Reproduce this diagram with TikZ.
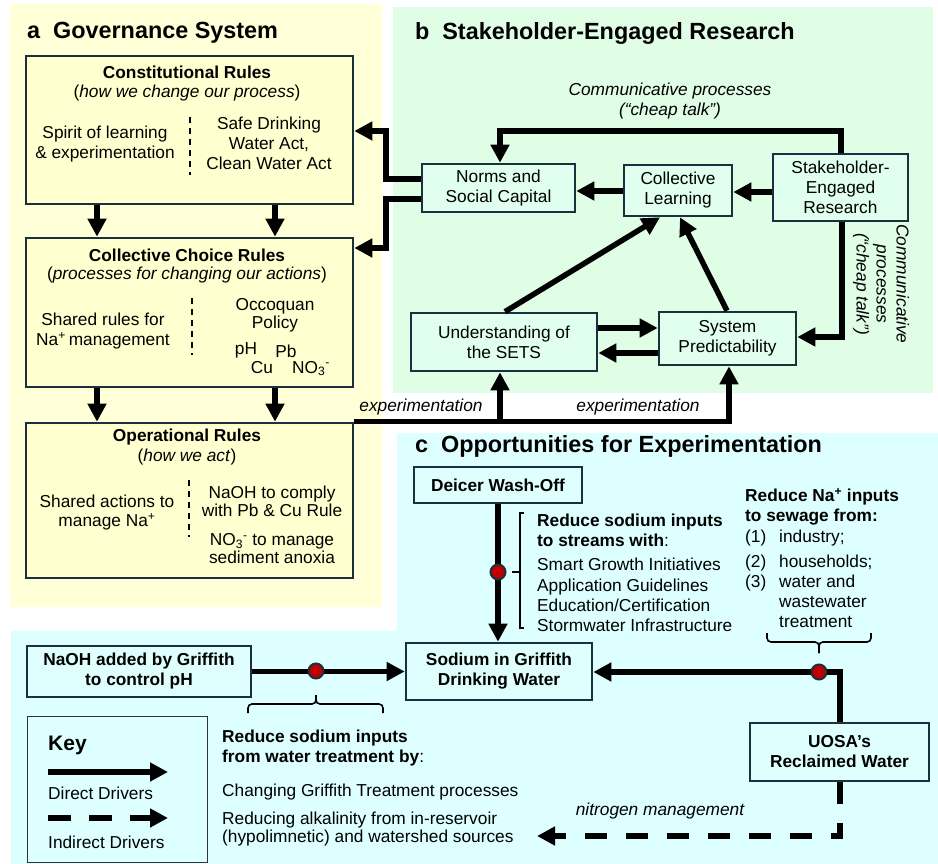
\documentclass[tikz,border=0pt]{standalone}
\usepackage{fontspec}
\setmainfont{Liberation Sans}
\usetikzlibrary{arrows.meta}
\definecolor{ybg}{HTML}{FFFFD8}
\definecolor{ybox}{HTML}{FFFFCF}
\definecolor{gbg}{HTML}{E0FDE5}
\definecolor{gbox}{HTML}{E0FFEF}
\definecolor{cbg}{HTML}{DDFFFF}
\definecolor{cbox}{HTML}{DFFFFF}
\definecolor{navy}{HTML}{19303F}
\definecolor{dotred}{HTML}{C00000}
\newcommand{\bodyfs}{\fontsize{17.3}{20}\selectfont}
\newcommand{\headfs}{\fontsize{23.4}{26}\selectfont\bfseries}
\begin{document}
\begin{tikzpicture}[x=1pt,y=-1pt,
  txt/.style={font=\bodyfs, align=center, inner sep=0pt},
  txtb/.style={font=\bodyfs, inner sep=0pt, anchor=base},
  txtl/.style={font=\bodyfs, align=left, inner sep=0pt, anchor=west},
  txtlb/.style={font=\bodyfs, inner sep=0pt, anchor=base west},
  head/.style={font=\headfs, inner sep=0pt, anchor=west},
  boxa/.style={draw=navy, line width=2.6pt, fill=ybox, inner sep=0pt},
  boxb/.style={draw=navy, line width=2.6pt, fill=gbox, inner sep=0pt, font=\bodyfs, align=center},
  boxc/.style={draw=navy, line width=2.6pt, fill=cbox, inner sep=0pt, font=\bodyfs\bfseries, align=center},
  arr/.style={line width=5.5pt, line join=miter, -{Triangle[length=18pt,width=18pt]}},
  sep/.style={line width=1.8pt, dash pattern=on 6pt off 5pt},
  brk/.style={line width=1.6pt},
  dot/.style={circle, fill=dotred, draw=navy, line width=2pt, minimum size=15pt, inner sep=0pt}]
\useasboundingbox (0,0) rectangle (938,864);
\fill[white] (0,0) rectangle (938,864);
% panels
\fill[ybg] (10,4) rectangle (382,607);
\fill[gbg] (393,7) rectangle (933,393);
\fill[cbg] (397,433) -- (938,433) -- (938,864) -- (11,864) -- (11,631) -- (397,631) -- cycle;
% headings
\node[head] (ha) at (27,33) {a\hspace{0.55em}Governance System};
\node[head] (hb) at (415,34) {b\hspace{0.55em}Stakeholder-Engaged Research};
\node[head] (hc) at (415,446) {c\hspace{0.55em}Opportunities for Experimentation};
% ---------- panel a ----------
\node[boxa, minimum width=327pt, minimum height=148pt] (const) at (189.5,130) {};
\node[boxa, minimum width=327pt, minimum height=149pt] (coll) at (189.5,312.5) {};
\node[boxa, minimum width=327pt, minimum height=155pt] (oper) at (189.5,500.5) {};
% constitutional
\node[txt, font=\bodyfs\bfseries] (t1) at (187,72) {Constitutional Rules};
\node[txt] (t1s) at (187,93) {(\textit{how we change our process})};
\node[txt] (t1l) at (105,144) {Spirit of learning\\\& experimentation};
\draw[sep] (190,117) -- (190,175);
\node[txt] (t1r) at (269,143) {Safe Drinking\\Water Act,\\Clean Water Act};
% collective choice
\node[txt, font=\bodyfs\bfseries] (t2) at (187,255) {Collective Choice Rules};
\node[txt] (t2s) at (187,275) {(\textit{processes for changing our actions})};
\node[txt] (t2l) at (103,331) {Shared rules for\\Na\textsuperscript{+}\,management};
\draw[sep] (192,298) -- (192,355);
\node[txt, font=\fontsize{17.3}{18}\selectfont] (t2r) at (275,315) {Occoquan\\Policy};
\node[txtb] (tph) at (246,354) {pH};
\node[txtb] (tpb) at (286,357) {Pb};
\node[txtb] (tcu) at (262,373) {Cu};
\node[txtb] (tno) at (311,373) {NO\textsubscript{3}\textsuperscript{-}};
% operational
\node[txt, font=\bodyfs\bfseries] (t3) at (187,437) {Operational Rules};
\node[txt] (t3s) at (187,457) {(\textit{how we act})};
\node[txt, font=\fontsize{17.3}{19}\selectfont] (t3l) at (107,513) {Shared actions to\\manage Na\textsuperscript{+}};
\draw[sep] (189,480) -- (189,537);
\node[txt, font=\fontsize{17.3}{18}\selectfont] (t3r1) at (272,501) {NaOH to comply\\with Pb \& Cu Rule};
\node[txt, font=\fontsize{17.3}{18}\selectfont] (t3r2) at (272,549) {NO\textsubscript{3}\textsuperscript{-} to manage\\sediment anoxia};
% arrows between rule levels
\draw[arr] (const.south -| 97,0) -- (coll.north -| 97,0);
\draw[arr] (const.south -| 275,0) -- (coll.north -| 275,0);
\draw[arr] (coll.south -| 97,0) -- (oper.north -| 97,0);
\draw[arr] (coll.south -| 275,0) -- (oper.north -| 275,0);
% ---------- panel b ----------
\node[boxb, minimum width=153pt, minimum height=48pt] (norms) at (498.5,188) {Norms and\\Social Capital};
\node[boxb, minimum width=108pt, minimum height=51pt] (cl) at (678,190.5) {Collective\\Learning};
\node[boxb, minimum width=135pt, minimum height=67pt] (ser) at (840.5,187.5) {Stakeholder-\\Engaged\\Research};
\node[boxb, minimum width=186pt, minimum height=58pt] (und) at (504,342) {Understanding of\\the SETS};
\node[boxb, minimum width=137pt, minimum height=53pt] (sysp) at (727.5,338.5) {System\\Predictability};
\node[txt, font=\bodyfs\itshape] (comm1) at (670,101) {Communicative processes\\(“cheap talk”)};
\node[txt, font=\bodyfs\itshape, rotate=-90] (comm2) at (881,284) {Communicative\\processes\\(“cheap talk”)};
\draw[arr] (ser.north -| 841,0) -- (841,131) -- (500,131) -- (norms.north -| 500,0);
\draw[arr] (ser.west |- 0,192) -- (cl.east |- 0,192);
\draw[arr] (cl.west |- 0,191) -- (norms.east |- 0,191);
\draw[arr] (norms.west |- 0,179) -- (386,179) -- (386,131) -- (const.east |- 0,131);
\draw[arr] (norms.west |- 0,199) -- (386,199) -- (386,248) -- (coll.east |- 0,248);
\draw[arr] (und.north -| 505,0) -- (cl.south -| 660,0);
\draw[arr] (sysp.north -| 727,0) -- (cl.south -| 680,0);
\draw[arr] (und.east |- 0,328) -- (sysp.west |- 0,328);
\draw[arr] (sysp.west |- 0,353) -- (und.east |- 0,353);
\draw[arr] (ser.south -| 842,0) -- (842,337) -- (sysp.east |- 0,337);
% experimentation
\draw[arr] (oper.north east) -| (sysp.south -| 729,0);
\draw[arr] (500,423) -- (und.south -| 500,0);
\node[txt, font=\bodyfs\itshape] (ex1) at (421,407) {experimentation};
\node[txt, font=\bodyfs\itshape] (ex2) at (638,407) {experimentation};
% ---------- panel c ----------
\node[boxc, minimum width=168pt, minimum height=36pt] (deicer) at (498,485) {Deicer Wash-Off};
\node[boxc, minimum width=186pt, minimum height=57pt] (sodium) at (499,671.5) {Sodium in Griffith\\Drinking Water};
\node[boxc, minimum width=224pt, minimum height=51pt] (naoh) at (139,671.5) {NaOH added by Griffith\\to control pH};
\node[boxc, minimum width=179pt, minimum height=58pt] (uosa) at (839.5,752) {UOSA’s\\Reclaimed Water};
\draw[arr] (deicer.south) -- (deicer.south |- sodium.north);
\draw[arr] (naoh.east) -- (sodium.west);
\draw[arr] (uosa.north -| 840,0) -- (840,672) -- (sodium.east |- 0,672);
\coordinate (nend) at (537,836);
\draw[arr, dash pattern=on 22pt off 19pt] (uosa.south -| 840,0) -- (840,836) -- (nend);
\node[txt, font=\bodyfs\itshape] (nitro) at (660,811) {nitrogen management};
\node[dot] (dot1) at (498,572) {};
\node[dot] (dot2) at (316,671) {};
\node[dot] (dot3) at (819,672) {};
% bracket for deicer
\draw[brk] (dot1.east -| 512,0) -- (519,572);
\draw[brk] (524,513) -- (520,513) -- (520,628) -- (524,628);
\node[txtl, font=\fontsize{17.3}{20}\selectfont] (rs1) at (537,530) {\textbf{Reduce sodium inputs}\\\textbf{to streams with}:};
\node[txtl, font=\fontsize{17.3}{20.3}\selectfont] (rs2) at (537,595) {Smart Growth Initiatives\\Application Guidelines\\Education/Certification\\Stormwater Infrastructure};
% sewage
\node[txtl, font=\bodyfs\bfseries] (sw1) at (745,507) {Reduce Na\textsuperscript{+} inputs\\to sewage from:};
\node[txtlb] (sw2) at (745,542) {(1)};
\node[txtlb] (sw3) at (745,567) {(2)};
\node[txtlb] (sw4) at (745,587) {(3)};
\node[txtlb] (sw5) at (779,542) {industry;};
\node[txtlb] (sw6) at (779,567) {households;};
\node[txtlb] (sw7) at (779,587) {water and};
\node[txtlb] (sw8) at (779,607) {wastewater};
\node[txtlb] (sw9) at (779,627) {treatment};
\draw[brk, rounded corners=4pt] (767,633) -- (767,642) -- (819,642) -- (819,653);
\draw[brk, rounded corners=4pt] (871,633) -- (871,642) -- (819,642) -- (819,653);
% water treatment
\draw[brk, rounded corners=4pt] (248,713) -- (248,704) -- (316,704) -- (316,695);
\draw[brk, rounded corners=4pt] (383,713) -- (383,704) -- (316,704) -- (316,695);
\node[txtl] (wt1) at (222,748) {\textbf{Reduce sodium inputs}\\\textbf{from water treatment by}:};
\node[txtlb] (wt2) at (222,796) {Changing Griffith Treatment processes};
\node[txtl, font=\fontsize{17.3}{18}\selectfont] (wt3) at (222,829) {Reducing alkalinity from in-reservoir\\(hypolimnetic) and watershed sources};
% key
\node[draw=black!80, line width=1pt, minimum width=180pt, minimum height=146pt, inner sep=0pt] (key) at (117,789) {};
\node[txtlb, font=\fontsize{21}{24}\selectfont\bfseries] (keyt) at (48,750) {Key};
\coordinate (k1) at (48,772);
\coordinate (k2) at (168,772);
\coordinate (k3) at (48,818);
\coordinate (k4) at (168,818);
\draw[arr] (k1) -- (k2);
\draw[arr, dash pattern=on 23pt off 18pt] (k3) -- (k4);
\node[txtlb] (kd) at (48,799) {Direct Drivers};
\node[txtlb] (ki) at (48,848) {Indirect Drivers};
\end{tikzpicture}
\end{document}
